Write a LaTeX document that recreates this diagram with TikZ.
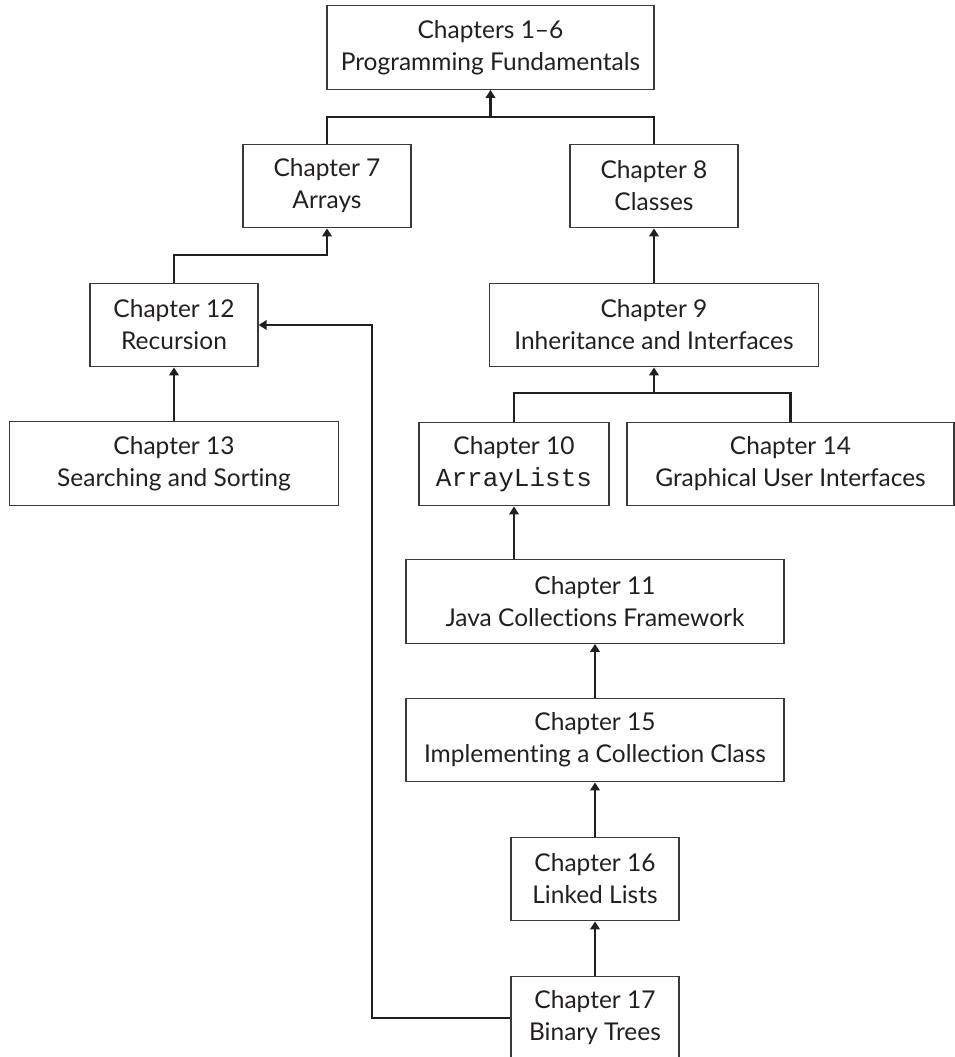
\documentclass[tikz,border=0pt]{standalone}
\usepackage{fontspec}
\setmainfont{Lato}[Ligatures={NoCommon}]
\newfontfamily\codefont{Liberation Mono}
\usetikzlibrary{arrows.meta}
\definecolor{ink}{HTML}{231F20}
\definecolor{boxline}{HTML}{3A3A3A}
\tikzset{
  chbox/.style={draw=boxline, line width=1.3pt, minimum height=83.5pt, inner sep=0pt,
    align=center, text=ink, font=\fontsize{24.5}{32}\selectfont},
  link/.style={draw=ink, line width=2.8pt},
  arr/.style={link, -{Triangle[length=8pt,width=9.5pt]}}
}
\begin{document}
\begin{tikzpicture}[x=1pt,y=-1pt]
\path[use as bounding box] (0,0) rectangle (955,1057);
\clip (0,0) rectangle (955,1057);
\node[chbox, minimum width=327pt] (c1)  at (490.5,47.5) {Chapters 1--6\\Programming Fundamentals};
\node[chbox, minimum width=168pt] (c7)  at (327,186) {Chapter 7\\Arrays};
\node[chbox, minimum width=168pt] (c8)  at (654,186) {Chapter 8\\Classes};
\node[chbox, minimum width=168pt] (c12) at (174,325) {Chapter 12\\Recursion};
\node[chbox, minimum width=329pt] (c9)  at (654,325) {Chapter 9\\Inheritance and Interfaces};
\node[chbox, minimum width=329pt] (c13) at (174,463.5) {Chapter 13\\Searching and Sorting};
\node[chbox, minimum width=190pt] (c10) at (514,464) {Chapter 10\\{\codefont\fontsize{26}{32}\selectfont ArrayLists}};
\node[chbox, minimum width=327pt] (c14) at (790.5,464) {Chapter 14\\Graphical User Interfaces};
\node[chbox, minimum width=378pt] (c11) at (595,601.5) {Chapter 11\\Java Collections Framework};
\node[chbox, minimum width=378pt] (c15) at (595,740) {Chapter 15\\Implementing a Collection Class};
\node[chbox, minimum width=168pt] (c16) at (595,879) {Chapter 16\\Linked Lists};
\node[chbox, minimum width=168pt] (c17) at (595,1018) {Chapter 17\\Binary Trees};
\coordinate (b1) at (490.5,117);
\coordinate (b2) at (654,393);
\coordinate (k1) at (327,255);
\coordinate (k2) at (372,325);
\draw[link] (c7.north) |- (b1) -| (c8.north);
\draw[arr] (b1) -- (c1.south);
\draw[arr] (c12.north) |- (k1) -- (c7.south);
\draw[arr] (c13.north) -- (c12.south);
\draw[arr] (c9.north) -- (c8.south);
\draw[link] (c10.north) |- (b2) -| (c14.north);
\draw[arr] (b2) -- (c9.south);
\draw[arr] (c11.north -| c10) -- (c10.south);
\draw[arr] (c15.north) -- (c11.south);
\draw[arr] (c16.north) -- (c15.south);
\draw[arr] (c17.north) -- (c16.south);
\draw[arr] (c17.west) -| (k2) -- (c12.east);
\end{tikzpicture}
\end{document}
